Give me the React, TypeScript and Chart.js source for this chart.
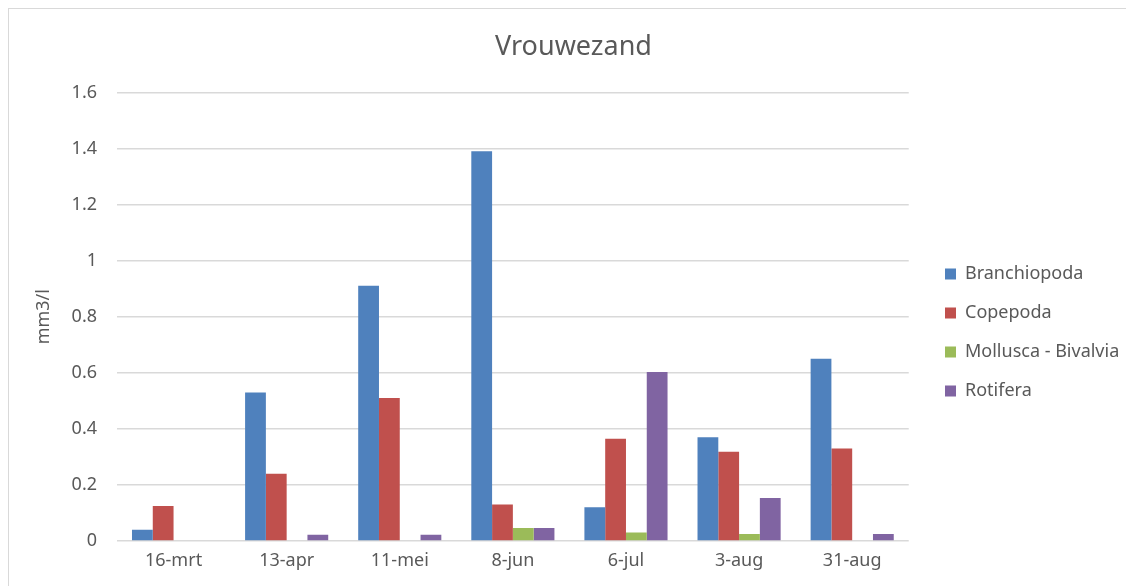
import React, { useEffect, useRef } from "react";
import { Chart, registerables } from "chart.js";

Chart.register(...registerables);

const categories = ["16-mrt", "13-apr", "11-mei", "8-jun", "6-jul", "3-aug", "31-aug"];
const branchiopoda = [0.04, 0.53, 0.91, 1.39, 0.12, 0.37, 0.65];
const copepoda = [0.125, 0.24, 0.51, 0.13, 0.365, 0.318, 0.33];
const molluscaBivalvia = [0, 0, 0, 0.046, 0.03, 0.025, 0];
const rotifera = [0, 0.022, 0.022, 0.046, 0.603, 0.153, 0.025];
const seriesNames = ["Branchiopoda", "Copepoda", "Mollusca - Bivalvia", "Rotifera"];
const seriesColors = ["#4F81BD", "#C0504D", "#9BBB59", "#8064A2"];
const chartTitle = "Vrouwezand";
const yAxisTitle = "mm3/l";

const FONT = "'Noto Sans', 'Open Sans', sans-serif";
const TEXT = "#595959";

const legendPlace = {
  id: "legendPlace",
  afterLayout(chart: any) {
    const l = chart.legend;
    if (!l) return;
    const w = l.right - l.left;
    const h = l.bottom - l.top;
    l.left = 915;
    l.right = 915 + w;
    const mid = 323.5;
    l.top = mid - h / 2;
    l.bottom = mid + h / 2;
  },
};

export default function App() {
  const ref = useRef<HTMLCanvasElement | null>(null);

  useEffect(() => {
    if (!ref.current) return;
    const values = [branchiopoda, copepoda, molluscaBivalvia, rotifera];
    const chart = new Chart(ref.current, {
      type: "bar",
      data: {
        labels: categories,
        datasets: values.map((d, i) => ({
          label: seriesNames[i],
          data: d,
          backgroundColor: seriesColors[i],
          borderWidth: 0,
          barPercentage: 1,
          categoryPercentage: 0.735,
        })),
      },
      options: {
        animation: false,
        responsive: false,
        maintainAspectRatio: false,
        layout: { padding: { left: 24, right: 20, top: 10, bottom: 15 } },
        plugins: {
          title: {
            display: true,
            text: chartTitle,
            color: TEXT,
            font: { family: FONT, size: 27, weight: "normal" },
            padding: { top: 12, bottom: 29 },
          },
          legend: {
            position: "right",
            align: "center",
            maxWidth: 225,
            labels: {
              color: TEXT,
              font: { family: FONT, size: 18 },
              boxWidth: 11,
              boxHeight: 11,
              padding: 21,
            },
          },
          tooltip: { enabled: false },
        },
        scales: {
          x: {
            grid: { display: false, drawTicks: false },
            border: { display: false },
            ticks: { color: TEXT, font: { family: FONT, size: 18 }, padding: 9 },
            afterFit: (scale: any) => {
              scale.height = 30;
            },
          },
          y: {
            min: 0,
            max: 1.6,
            grid: { color: "#D9D9D9", lineWidth: 1.5, drawTicks: false },
            border: { display: false },
            ticks: {
              stepSize: 0.2,
              color: TEXT,
              font: { family: FONT, size: 18 },
              padding: 20,
              callback: (v: any) => String(parseFloat(Number(v).toFixed(1))),
            },
            title: {
              display: true,
              text: yAxisTitle,
              color: TEXT,
              font: { family: FONT, size: 18 },
              padding: { top: 0, bottom: 15 },
            },
            afterFit: (scale: any) => {
              scale.width = 84;
            },
          },
        },
      },
      plugins: [legendPlace],
    });
    return () => chart.destroy();
  }, []);

  return (
    <div
      style={{
        width: 1126,
        height: 578,
        boxSizing: "border-box",
        borderLeft: "1px solid #D9D9D9",
        borderTop: "1px solid #D9D9D9",
        background: "#fff",
      }}
    >
      <canvas ref={ref} width={1125} height={577} style={{ display: "block" }} />
    </div>
  );
}
